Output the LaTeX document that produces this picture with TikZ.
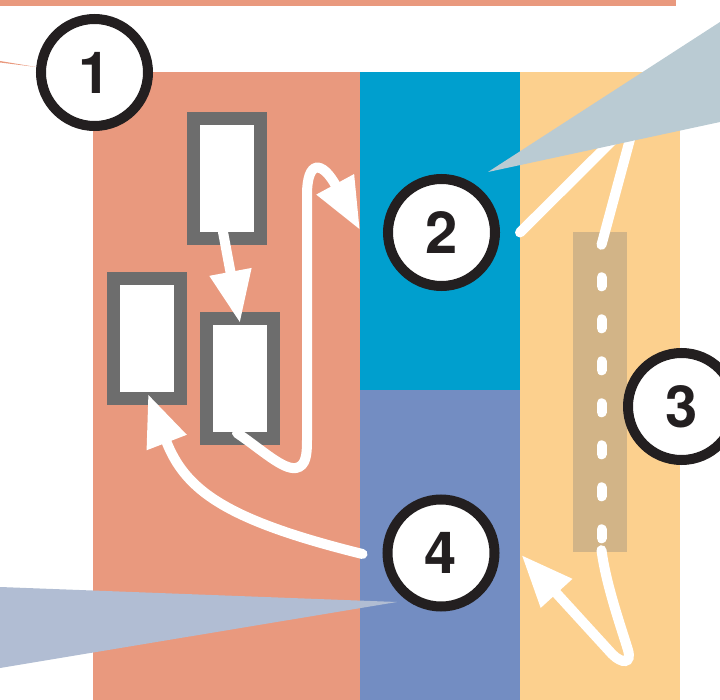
\documentclass[tikz,border=0pt]{standalone}
\usepackage{fontspec}
\setmainfont{TeX Gyre Heros}
\usepackage{tikz}
\usetikzlibrary{arrows.meta,calc}
\definecolor{salmonband}{RGB}{233,153,126}
\definecolor{cyanband}{RGB}{0,159,206}
\definecolor{lavenderband}{RGB}{115,141,194}
\definecolor{apricotband}{RGB}{252,208,142}
\definecolor{tanstrip}{RGB}{210,180,135}
\definecolor{slotgrey}{RGB}{109,109,109}
\definecolor{ringblack}{RGB}{35,31,32}
\definecolor{skywedge}{RGB}{186,203,211}
\definecolor{slatewedge}{RGB}{177,189,211}
\pgfdeclarelayer{bands}
\pgfdeclarelayer{flows}
\pgfdeclarelayer{wedges}
\pgfsetlayers{bands,flows,wedges,main}
\tikzset{
  badge/.style={circle,draw=ringblack,line width=10pt,fill=white,
    minimum size=107pt,inner sep=0pt,text=ringblack,
    font=\fontsize{58}{58}\selectfont\bfseries},
  slot/.style={rectangle,draw=slotgrey,line width=13pt,fill=white,
    minimum width=67pt,minimum height=120pt,inner sep=0pt},
  strip/.style={rectangle,fill=tanstrip,minimum width=54pt,
    minimum height=320pt,inner sep=0pt},
  trail/.style={draw=white,line width=10pt,line cap=round},
  flow/.style={trail,-{Triangle[length=52pt,width=40pt]}}
}

\begin{document}
\begin{tikzpicture}[x=1pt,y=-1pt]
  \useasboundingbox (0,0) rectangle (720,700);
  \clip (0,0) rectangle (720,700);
  \node[badge] (c1) at (94.5,72.5) {1};
  \node[badge] (c2) at (441.5,232.5) {2};
  \node[badge] (c3) at (681.5,406.5) {3};
  \node[badge] (c4) at (441,553) {4};

  \begin{pgfonlayer}{bands}
    \fill[salmonband] (0,0) rectangle (676,6);
    \fill[salmonband] (0,61) -- (36,67) -- (0,62.5) -- cycle;
    \fill[salmonband] (93,72) rectangle (360,700);
    \fill[cyanband] (360,72) rectangle (520,390);
    \fill[lavenderband] (360,390) rectangle (520,700);
    \fill[apricotband] (520,72) rectangle (680,700);
  \end{pgfonlayer}

  \begin{pgfonlayer}{flows}
    \node[strip] (strip) at (600,392) {};
    \node[slot] (slotup) at (227,178.5) {};
    \node[slot] (slotmid) at (240,378.5) {};
    \node[slot] (slotleft) at (147,338.5) {};
    \coordinate (dtop) at ($(strip.north)+(1.5,13)$);
    \coordinate (dbot) at ($(strip.south)+(1.5,-2)$);
    \draw[flow] ($(slotup.south)+(-4,-13)$) -- ($(slotmid.north)+(0,11)$);
    \draw[flow] ($(slotmid.south)+(-3,-12)$) .. controls (262,450) and (283,470) .. (296,468)
      .. controls (306,466) and (307,455) .. (307,440) -- (307,195)
      .. controls (307,160) and (322,160) .. ($(c2.west)+(-23,-2.5)$);
    \draw[flow] ($(c4.west)+(-20,1)$) .. controls (225,520) and (185,490)
      .. ($(slotleft.south)+(1,-11)$);
    \draw[trail] ($(c2.east)+(20,0)$) -- (636,117) -- (dtop);
    \draw[trail,dash pattern=on 9pt off 33pt,dash phase=9.5pt] (dtop) -- (dbot);
    \draw[flow] (dbot) .. controls (606,585) and (622,630) .. (628,650)
      .. controls (632,664) and (622,664) .. (612,654) -- ($(c4.east)+(22,2)$);
  \end{pgfonlayer}

  \begin{pgfonlayer}{wedges}
    \fill[skywedge] (488,172) -- (720,22) -- (720,122) -- cycle;
    \fill[slatewedge] (397,602) -- (0,587) -- (0,668) -- cycle;
  \end{pgfonlayer}
\end{tikzpicture}
\end{document}
